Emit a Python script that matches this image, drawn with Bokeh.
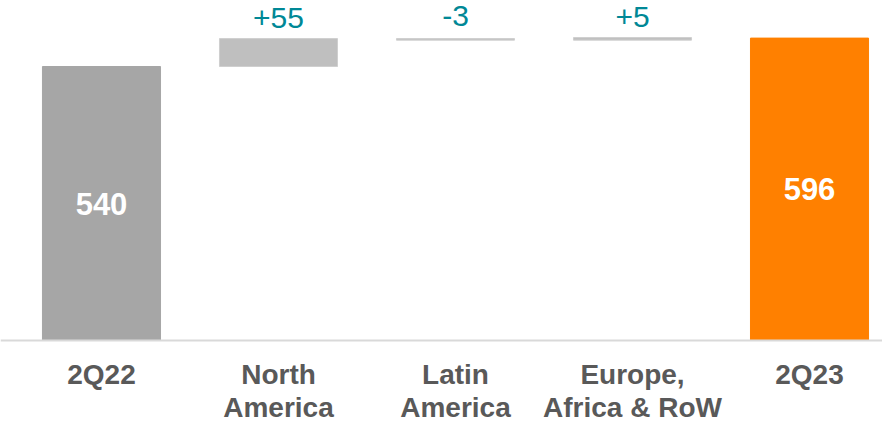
from bokeh.plotting import figure
from bokeh.models import ColumnDataSource, Range1d, Span
from bokeh.core.properties import value
from bokeh.embed import file_html
from bokeh.resources import INLINE

# ---- data ----
categories = ["2Q22", "North\nAmerica", "Latin\nAmerica", "Europe,\nAfrica & RoW", "2Q23"]
start_value = 540
deltas = [55, -3, 5]
end_value = 596
delta_labels = ["+55", "-3", "+5"]
total_labels = ["540", "596"]

FONT = "Liberation Sans"

# ---- build waterfall geometry from data ----
xs = list(range(len(categories)))
bottoms, tops, colors, lines = [], [], [], []
bottoms.append(0); tops.append(start_value); colors.append("#a6a6a6"); lines.append("#a6a6a6")
running = start_value
d_x, d_y, d_off = [], [], []
for i, d in enumerate(deltas):
    nxt = running + d
    bottoms.append(min(running, nxt)); tops.append(max(running, nxt))
    colors.append("#bfbfbf"); lines.append("#cfcfcf")
    d_x.append(xs[i + 1]); d_y.append(max(running, nxt))
    d_off.append(-21 if d >= 0 else -23)
    running = nxt
bottoms.append(0); tops.append(end_value); colors.append("#ff8000"); lines.append("#ff8000")

bars = ColumnDataSource(dict(x=xs, bottom=bottoms, top=tops, fill=colors, line=lines))

p = figure(width=882, height=422, output_backend="svg", toolbar_location=None,
           x_range=Range1d(-0.5706, 4.4124), y_range=Range1d(-161.6, 670.1),
           min_border=0, min_border_left=0, min_border_right=0,
           min_border_top=0, min_border_bottom=0)
p.axis.visible = False
p.grid.visible = False
p.outline_line_color = None
p.background_fill_color = "white"
p.border_fill_color = "white"

p.add_layout(Span(location=0, dimension="width", line_color="#d9d9d9", line_width=2))

p.vbar(x="x", bottom="bottom", top="top", width=0.667, fill_color="fill",
       line_color="line", line_width=1, source=bars)

# totals inside bars
tot_src = ColumnDataSource(dict(x=[xs[0], xs[-1]],
                                y=[start_value / 2, end_value / 2],
                                t=total_labels))
p.text(x="x", y="y", text="t", source=tot_src, text_color="white",
       text_font=value(FONT), text_font_style="bold", text_font_size="31px",
       text_align="center", text_baseline="middle")

# delta labels
d_src = ColumnDataSource(dict(x=d_x, y=d_y, t=delta_labels, off=d_off))
p.text(x="x", y="y", text="t", source=d_src, y_offset="off", text_color="#008896",
       text_font=value(FONT), text_font_size="30px",
       text_align="center", text_baseline="alphabetic")

# category labels (two lines)
line1 = [c.split("\n")[0] for c in categories]
line2 = [c.split("\n")[1] if "\n" in c else "" for c in categories]
c1 = ColumnDataSource(dict(x=xs, y=[0] * len(xs), t=line1))
c2 = ColumnDataSource(dict(x=xs, y=[0] * len(xs), t=line2))
for src, off in ((c1, 34), (c2, 67)):
    p.text(x="x", y="y", text="t", source=src, y_offset=off, text_color="#595959",
           text_font=value(FONT), text_font_style="bold", text_font_size="28px",
           text_align="center", text_baseline="alphabetic")

open("out.html", "w").write(file_html(p, INLINE))
